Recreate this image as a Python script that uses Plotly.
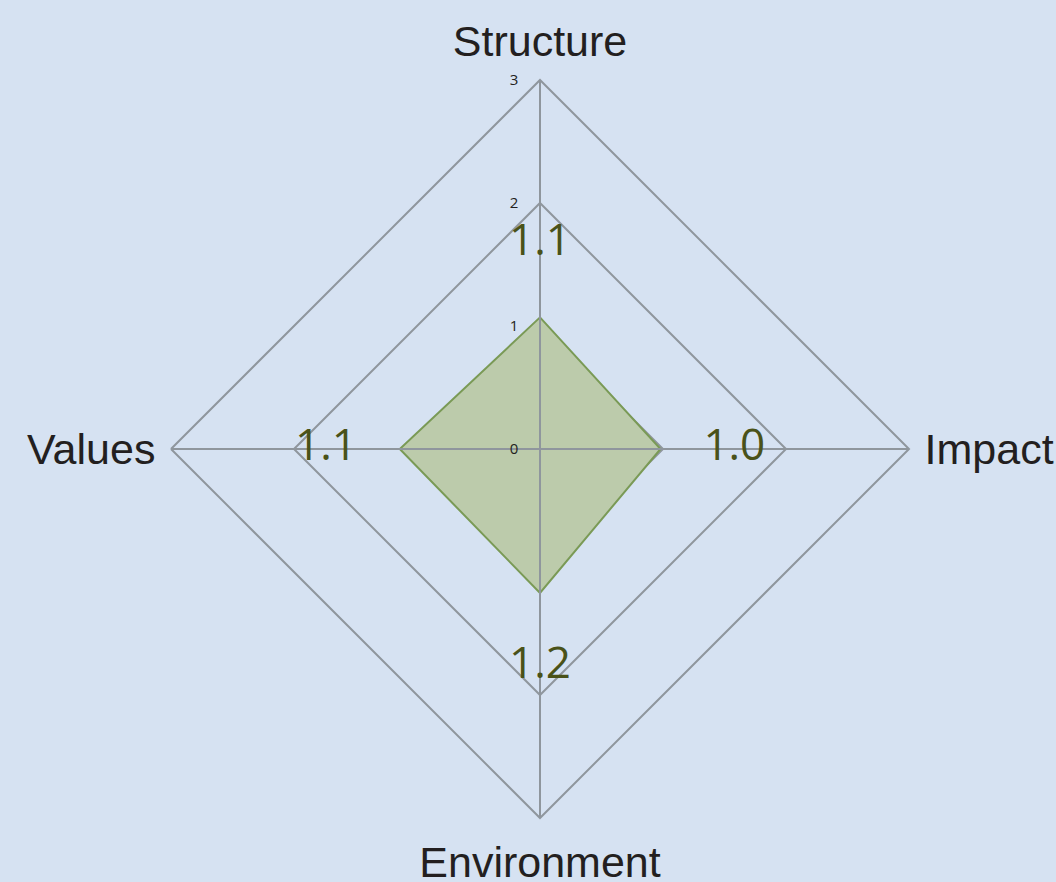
import plotly.graph_objects as go

categories = ["Structure", "Impact", "Environment", "Values"]
scores = [1.07, 0.98, 1.17, 1.14]
label_offset = 0.6
radial_ticks = [0, 1, 2, 3]

BG = "#d6e2f2"
GRID = "#8f969d"
rmax = radial_ticks[-1]

theta_closed = categories + [categories[0]]
r_closed = scores + [scores[0]]

# spokes drawn over the filled area (as in the reference)
spoke_r, spoke_t = [], []
for c in categories:
    spoke_r += [0, rmax, None]
    spoke_t += [c, c, None]

fig = go.Figure()
fig.add_trace(go.Scatterpolar(
    r=r_closed, theta=theta_closed, mode="lines",
    fill="toself", fillcolor="#bccbab",
    line=dict(color="#7a9a56", width=2),
    hoverinfo="skip", showlegend=False,
))
fig.add_trace(go.Scatterpolar(
    r=spoke_r, theta=spoke_t, mode="lines",
    line=dict(color=GRID, width=2), connectgaps=False,
    hoverinfo="skip", showlegend=False,
))
fig.add_trace(go.Scatterpolar(
    r=[s + label_offset for s in scores], theta=categories, mode="text",
    text=[f"{s:.1f}" for s in scores],
    textfont=dict(family="Open Sans", size=44, color="#4a5219"),
    textposition="middle center",
    hoverinfo="skip", showlegend=False,
))

fig.update_layout(
    width=1056, height=882,
    paper_bgcolor=BG, plot_bgcolor=BG,
    margin=dict(l=171, r=147, t=80, b=64),
    showlegend=False,
    polar=dict(
        bgcolor=BG,
        gridshape="linear",
        radialaxis=dict(
            range=[0, rmax], tickvals=radial_ticks, angle=90,
            side="counterclockwise", tickangle=90,
            showline=False, gridcolor=GRID, gridwidth=2,
            tickfont=dict(family="Open Sans", size=15, color="#231f20"),
            ticks="outside", ticklen=16, tickcolor="rgba(0,0,0,0)",
            layer="above traces",
        ),
        angularaxis=dict(
            rotation=90, direction="clockwise",
            categoryorder="array", categoryarray=categories,
            linecolor=GRID, linewidth=2, gridcolor=GRID, gridwidth=2,
            ticks="outside", ticklen=6, tickcolor="rgba(0,0,0,0)",
            tickfont=dict(family="Liberation Sans", size=43, color="#231f20"),
        ),
    ),
)

fig.write_html("out.html", config={"displayModeBar": False})
with open("out.html", encoding="utf-8") as f:
    html = f.read()
html = html.replace("<head>", "<head><style>html,body{margin:0;padding:0;background:%s;}</style>" % BG, 1)
with open("out.html", "w", encoding="utf-8") as f:
    f.write(html)
